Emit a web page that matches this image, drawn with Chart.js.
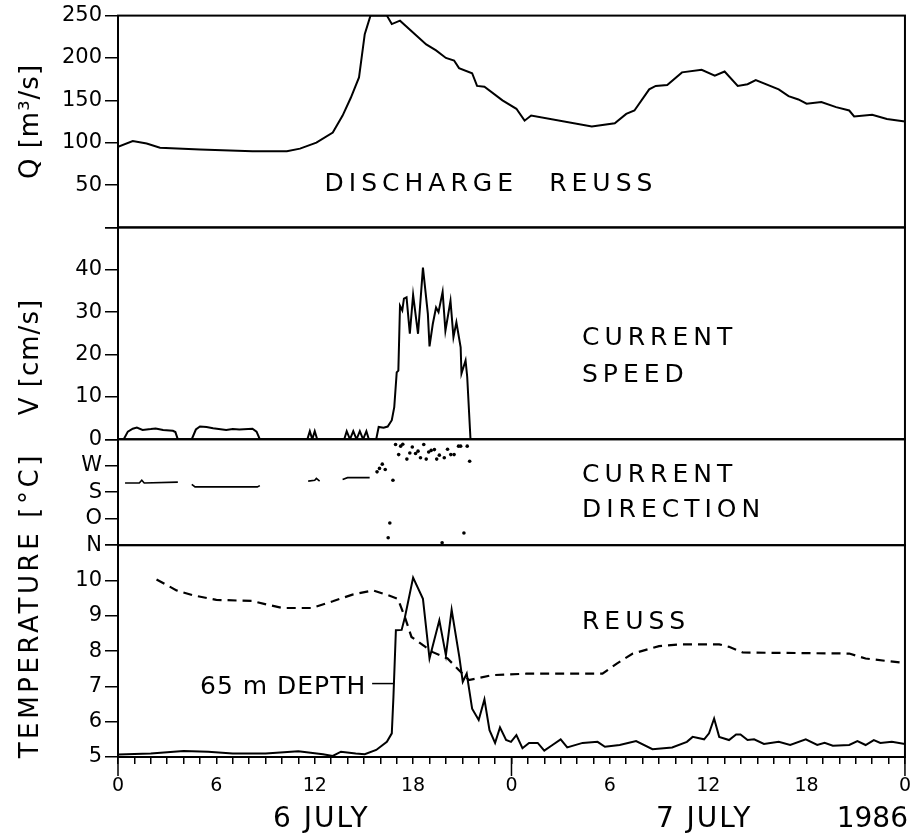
<!DOCTYPE html>
<html>
<head>
<meta charset="utf-8">
<title>Reuss discharge, current and temperature - 6/7 July 1986</title>
<script src="https://cdn.jsdelivr.net/npm/chart.js@4.4.1/dist/chart.umd.min.js"></script>
<style>
    html, body { margin: 0; padding: 0; background: #fff; }
    #wrap { position: relative; width: 922px; height: 837px; }
</style>
</head>
<body>
<div id="wrap"><canvas id="reussChart"></canvas></div>
<script>
'use strict';

// ── Data: time in hours since 6 July 00:00 ──────────────────
// Discharge of the Reuss [m3/s]
const qHours  = [0, 0.9, 1.75, 2.56, 5, 8.2, 10.3, 11.1, 12.1, 13.1,
                 13.7, 14.2, 14.7, 15.05, 15.4, 16.4, 16.7, 17.2, 18.8, 19.4,
                 20, 20.5, 20.8, 21.6, 21.9, 22.35, 23.45, 24.3, 24.8, 25.2,
                 28.9, 30.3, 31, 31.5, 32.4, 32.8, 33.5, 34.4, 35.6, 36.4,
                 37, 37.8, 38.4, 38.9, 40.3, 40.9, 41.5, 42, 42.9, 43.8,
                 44.6, 44.9, 46, 46.9, 48];
const qValues = [95, 102, 99, 94, 92, 90, 90, 93, 100, 112,
                 132, 153, 177, 228, 250, 250, 240, 244, 216, 209,
                 200, 197, 188, 182, 167, 166, 150, 140, 126, 132,
                 119, 123, 134, 138, 163, 167, 168, 183, 186, 179,
                 184, 167, 169, 174, 163, 155, 151, 146, 148, 142,
                 138, 131, 133, 128, 125];

// Current speed [cm/s]
const vHours  = [0, 0.35, 0.6, 0.9, 1.15, 1.5, 2.0, 2.3, 2.75, 3.35,
                 3.5, 3.65, 4.5, 4.75, 5.0, 5.4, 5.8, 6.6, 7.0, 7.4,
                 8.2, 8.45, 8.65, 11.55, 11.7, 11.85, 12.0, 12.15, 13.8, 13.95,
                 14.15, 14.35, 14.55, 14.75, 14.95, 15.15, 15.3, 15.75, 15.9, 16.2,
                 16.45, 16.7, 16.85, 17.0, 17.1, 17.2, 17.34, 17.44, 17.6, 17.8,
                 18.0, 18.3, 18.6, 18.9, 19.0, 19.2, 19.4, 19.55, 19.8, 19.97,
                 20.28, 20.46, 20.64, 20.9, 20.95, 21.2, 21.3, 21.5, 48];
const vValues = [0, 0, 1.8, 2.5, 2.75, 2.2, 2.4, 2.55, 2.2, 2.0,
                 1.7, 0, 0, 2.3, 3.0, 2.9, 2.6, 2.2, 2.4, 2.3,
                 2.5, 1.8, 0, 0, 1.9, 0, 1.9, 0, 0, 1.9,
                 0, 1.9, 0, 1.9, 0, 1.9, 0, 0, 2.9, 2.7,
                 3.0, 4.5, 7.6, 15.8, 16.2, 31.5, 30.4, 33.2, 33.5, 24.9,
                 34.1, 24.9, 40.5, 29.6, 21.9, 27.2, 31.1, 30, 34.8, 25.6,
                 32.7, 24.1, 27.6, 21.7, 15.5, 18.6, 14.7, 0, 0];

// Current direction: 0 = N, 1 = O (east), 2 = S, 3 = W, 4 = N
const dirLabels     = ['N', 'O', 'S', 'W', ''];
const dirLineHours  = [0.43, 1.3, 1.45, 1.6, 3.65, 4.0, 4.5, 4.7, 8.5, 8.65,
                       10, 11.6, 12.0, 12.1, 12.3, 13, 13.7, 14.0, 15.35];
const dirLineValues = [2.35, 2.35, 2.45, 2.35, 2.38, null, 2.3, 2.2, 2.2, 2.25,
                       null, 2.42, 2.45, 2.52, 2.42, null, 2.48, 2.55, 2.55];
const dirDotHours   = [15.8, 15.95, 16.12, 16.3, 16.48, 16.58, 16.77, 16.93, 17.12, 17.24,
                       17.37, 17.62, 17.8, 17.95, 18.15, 18.3, 18.45, 18.65, 18.8, 18.95,
                       19.1, 19.3, 19.44, 19.6, 19.77, 19.9, 20.1, 20.3, 20.5, 20.77,
                       20.9, 21.1, 21.3, 21.45];
const dirDotValues  = [2.77, 2.9, 3.06, 2.86, 0.28, 0.84, 2.45, 3.8, 3.42, 3.74,
                       3.81, 3.25, 3.48, 3.71, 3.46, 3.55, 3.3, 3.8, 3.25, 3.52,
                       3.58, 3.61, 3.25, 3.4, 0.09, 3.3, 3.62, 3.42, 3.42, 3.74,
                       3.74, 0.46, 3.74, 3.17];

// Temperature at 65 m depth [°C]
const tDepthHours  = [0, 2, 4, 5.5, 7, 9, 11, 12.5, 13.1, 13.6,
                      14.5, 15.05, 15.75, 16.4, 16.7, 16.8, 16.95, 17.3, 17.5, 18.0,
                      18.6, 19.0, 19.6, 20.0, 20.35, 20.82, 21.03, 21.27, 21.6, 22.0,
                      22.35, 22.66, 23.0, 23.3, 23.67, 23.97, 24.3, 24.67, 25.07, 25.6,
                      26.0, 26.5, 27.0, 27.4, 28.34, 29.25, 29.7, 30.6, 31.6, 32.6,
                      33.8, 34.7, 35.05, 35.75, 36.05, 36.36, 36.67, 37.27, 37.7, 37.97,
                      38.4, 38.8, 39.4, 40.3, 41.0, 41.95, 42.65, 43.1, 43.6, 44.6,
                      45.1, 45.6, 46.1, 46.5, 47.2, 48];
const tDepthValues = [5.07, 5.1, 5.17, 5.15, 5.1, 5.1, 5.16, 5.08, 5.03, 5.15,
                      5.1, 5.08, 5.2, 5.43, 5.67, 6.7, 8.59, 8.6, 8.96, 10.08,
                      9.48, 7.79, 8.87, 7.88, 9.17, 7.83, 7.13, 7.36, 6.37, 6.05,
                      6.63, 5.76, 5.4, 5.84, 5.48, 5.43, 5.62, 5.25, 5.4, 5.4,
                      5.18, 5.34, 5.5, 5.27, 5.4, 5.43, 5.29, 5.34, 5.45, 5.22,
                      5.27, 5.43, 5.57, 5.5, 5.67, 6.09, 5.57, 5.48, 5.64, 5.64,
                      5.48, 5.5, 5.37, 5.43, 5.34, 5.5, 5.34, 5.4, 5.32, 5.34,
                      5.45, 5.34, 5.48, 5.4, 5.43, 5.37];

// Temperature of the Reuss [°C]
const tReussHours  = [2.35, 3.57, 4.57, 6, 8.2, 9.05, 10.05, 11.8, 13.1, 14.3,
                      15.55, 16.37, 17.07, 17.5, 17.9, 19.2, 20.1, 20.8, 21.4, 22.85,
                      24.9, 29.55, 30.4, 31.4, 33, 34.2, 36.67, 37.27, 38.1, 44.6,
                      45.6, 48];
const tReussValues = [10.03, 9.72, 9.58, 9.45, 9.42, 9.32, 9.22, 9.22, 9.41, 9.6,
                      9.72, 9.6, 9.48, 8.96, 8.4, 7.97, 7.79, 7.46, 7.18, 7.32,
                      7.36, 7.36, 7.64, 7.93, 8.14, 8.19, 8.19, 8.12, 7.96, 7.93,
                      7.79, 7.66];

const FONT = '"DejaVu Sans", sans-serif';

// helper: pair hour + value arrays into {x, y} points
function pts(hours, values) {
    return hours.map((h, i) => ({ x: h, y: values[i] }));
}

// ── Annotation plugin: panel frames, texts, axis titles ─────
const panelNotes = {
    id: 'panelNotes',
    afterDatasetsDraw(chart) {
        const { ctx, chartArea: area, scales } = chart;
        const px = h => scales.x.getPixelForValue(h);

        ctx.save();
        ctx.strokeStyle = '#000';
        ctx.fillStyle = '#000';

        // frames around each panel
        ctx.lineWidth = 2;
        ['yQ', 'yV', 'yD', 'yT'].forEach(id => {
            const s = scales[id];
            ctx.strokeRect(area.left, s.top, area.right - area.left, s.bottom - s.top);
        });

        // long ticks at midnight
        ctx.lineWidth = 1.5;
        [0, 24, 48].forEach(h => {
            ctx.beginPath();
            ctx.moveTo(px(h), area.bottom);
            ctx.lineTo(px(h), area.bottom + 19);
            ctx.stroke();
        });

        // leader line for "65 m DEPTH"
        const yLead = scales.yT.getPixelForValue(7.08);
        ctx.beginPath();
        ctx.moveTo(px(15.5), yLead);
        ctx.lineTo(px(16.8), yLead);
        ctx.stroke();

        function write(str, x, y, size, spacing, align) {
            ctx.font = size + 'px ' + FONT;
            ctx.letterSpacing = spacing + 'px';
            ctx.textAlign = align || 'left';
            ctx.textBaseline = 'middle';
            ctx.fillText(str, x, y);
        }
        const at = (id, v) => scales[id].getPixelForValue(v);

        // panel labels
        write('DISCHARGE', px(12.6), at('yQ', 51), 25, 5);
        write('REUSS', px(26.3), at('yQ', 51), 25, 5);
        write('CURRENT', px(28.3), at('yV', 23.8), 25, 5);
        write('SPEED', px(28.3), at('yV', 15), 25, 5);
        write('CURRENT', px(28.3), at('yD', 2.64), 25, 5);
        write('DIRECTION', px(28.3), at('yD', 1.32), 25, 5);
        write('REUSS', px(28.3), at('yT', 8.81), 25, 5);
        write('65 m DEPTH', px(5.0), at('yT', 6.98), 25, 1);

        // date labels under the time axis
        write('6 JULY', px(12.4), area.bottom + 63, 28, 2, 'center');
        write('7 JULY', px(35.75), area.bottom + 63, 28, 2, 'center');
        write('1986', px(48) + 3, area.bottom + 63, 28, 0, 'right');

        // rotated axis titles
        function title(str, y, spacing) {
            ctx.save();
            ctx.translate(31, y);
            ctx.rotate(-Math.PI / 2);
            write(str, 0, 0, 26, spacing, 'center');
            ctx.restore();
        }
        title('Q [m³/s]', (scales.yQ.top + scales.yQ.bottom) / 2, 1);
        title('V [cm/s]', at('yV', 19.4), 1);
        title('TEMPERATURE [°C]', at('yT', 9.3), 3.6);

        ctx.restore();
    }
};

// ── Shared y-axis styling ───────────────────────────────────
function yAxis(min, max, step, weight, labelFn) {
    return {
        type: 'linear',
        position: 'left',
        stack: 'panels',
        stackWeight: weight,
        min: min,
        max: max,
        border: { color: '#000', width: 2 },
        grid: { drawOnChartArea: false, tickLength: 13, color: '#000', lineWidth: 1.5 },
        ticks: {
            stepSize: step,
            autoSkip: false,
            color: '#000',
            padding: 3,
            font: { family: FONT, size: 21 },
            callback: labelFn
        },
        afterFit: s => { s.width = 118; }
    };
}

const line = (data, axis, extra) => Object.assign({
    data: data,
    yAxisID: axis,
    borderColor: '#000',
    backgroundColor: '#000',
    borderWidth: 2,
    pointRadius: 0,
    tension: 0,
    fill: false,
    spanGaps: false
}, extra || {});

new Chart(document.getElementById('reussChart').getContext('2d'), {
    type: 'line',
    data: {
        datasets: [
            line(pts(qHours, qValues), 'yQ'),
            line(pts(vHours, vValues), 'yV'),
            line(pts(dirLineHours, dirLineValues), 'yD', { borderWidth: 1.6 }),
            line(pts(dirDotHours, dirDotValues), 'yD', { showLine: false, pointRadius: 1.8, pointBorderWidth: 0 }),
            line(pts(tDepthHours, tDepthValues), 'yT'),
            line(pts(tReussHours, tReussValues), 'yT', { borderDash: [9, 6], borderWidth: 2.2 })
        ]
    },
    options: {
        responsive: true,
        maintainAspectRatio: false,
        animation: false,
        events: [],
        layout: { padding: { top: 15, right: 16, bottom: 0, left: 0 } },
        plugins: { legend: { display: false }, tooltip: { enabled: false } },
        scales: {
            x: {
                type: 'linear',
                min: 0,
                max: 48,
                border: { color: '#000', width: 2 },
                grid: { drawOnChartArea: false, tickLength: 7, color: '#000', lineWidth: 1.5 },
                ticks: {
                    stepSize: 1,
                    maxTicksLimit: 60,
                    autoSkip: false,
                    maxRotation: 0,
                    padding: 11,
                    color: '#000',
                    font: { family: FONT, size: 19 },
                    callback: v => (v % 6 === 0 ? String(v % 24) : '')
                },
                afterFit: s => { s.height = 80; }
            },
            // listed bottom-to-top: stacked left axes are placed in reverse order
            yT: yAxis(5, 11, 1, 2, v => (v === 11 ? '' : v)),
            yD: yAxis(0, 4, 1, 1, v => dirLabels[v]),
            yV: yAxis(0, 50, 10, 2, v => (v === 50 ? '' : v)),
            yQ: yAxis(0, 250, 50, 2, v => (v === 0 ? '' : v))
        }
    },
    plugins: [panelNotes]
});
</script>
</body>
</html>
